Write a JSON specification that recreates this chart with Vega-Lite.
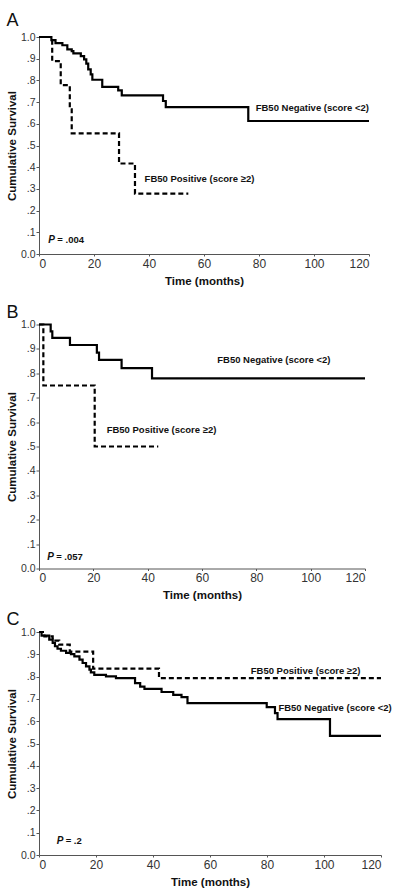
{
  "$schema": "https://vega.github.io/schema/vega-lite/v6.json",
  "padding": {"left": 6, "top": 11, "right": 0, "bottom": 0},
  "background": "white",
  "spacing": 9,
  "config": {
    "view": {"stroke": null},
    "font": "Liberation Sans",
    "axis": {"grid": false, "domainColor": "#555", "tickColor": "#555", "labelColor": "#333", "labelFont": "Liberation Sans", "titleFont": "Liberation Sans", "titleFontWeight": "bold", "titleColor": "#111", "titleFontSize": 11.5},
    "axisX": {"tickSize": 2, "labelFontSize": 12, "labelPadding": 2, "titlePadding": 6},
    "axisY": {"tickSize": 3, "labelFontSize": 10.5, "labelPadding": 1, "titlePadding": 3},
    "title": {"anchor": "start", "frame": "bounds", "fontSize": 18, "fontWeight": "normal", "font": "Liberation Sans", "color": "#111"}
  },
  "datasets": {
    "a": [
      {"group": "Negative", "t": 0, "s": 1.0},
      {"group": "Negative", "t": 4.5, "s": 0.986},
      {"group": "Negative", "t": 6, "s": 0.972},
      {"group": "Negative", "t": 8.5, "s": 0.962},
      {"group": "Negative", "t": 10.3, "s": 0.943},
      {"group": "Negative", "t": 11.9, "s": 0.935},
      {"group": "Negative", "t": 12.5, "s": 0.925},
      {"group": "Negative", "t": 15.2, "s": 0.912},
      {"group": "Negative", "t": 16.4, "s": 0.897},
      {"group": "Negative", "t": 17.2, "s": 0.877},
      {"group": "Negative", "t": 17.9, "s": 0.851},
      {"group": "Negative", "t": 18.8, "s": 0.828},
      {"group": "Negative", "t": 19.4, "s": 0.803},
      {"group": "Negative", "t": 23, "s": 0.77},
      {"group": "Negative", "t": 28.8, "s": 0.754},
      {"group": "Negative", "t": 30.1, "s": 0.731},
      {"group": "Negative", "t": 45.1, "s": 0.705},
      {"group": "Negative", "t": 46.1, "s": 0.677},
      {"group": "Negative", "t": 76.1, "s": 0.613},
      {"group": "Negative", "t": 120, "s": 0.613},
      {"group": "Positive", "t": 0, "s": 1.0},
      {"group": "Positive", "t": 4.8, "s": 0.889},
      {"group": "Positive", "t": 7.9, "s": 0.778},
      {"group": "Positive", "t": 11.2, "s": 0.667},
      {"group": "Positive", "t": 11.9, "s": 0.556},
      {"group": "Positive", "t": 29.1, "s": 0.417},
      {"group": "Positive", "t": 34.9, "s": 0.278},
      {"group": "Positive", "t": 54.3, "s": 0.278}
    ],
    "b": [
      {"group": "Negative", "t": 0, "s": 1.0},
      {"group": "Negative", "t": 4.3, "s": 0.972},
      {"group": "Negative", "t": 4.9, "s": 0.945},
      {"group": "Negative", "t": 11.4, "s": 0.916},
      {"group": "Negative", "t": 21.3, "s": 0.885},
      {"group": "Negative", "t": 22.1, "s": 0.855},
      {"group": "Negative", "t": 30.4, "s": 0.821},
      {"group": "Negative", "t": 41.6, "s": 0.779},
      {"group": "Negative", "t": 120, "s": 0.779},
      {"group": "Positive", "t": 0, "s": 1.0},
      {"group": "Positive", "t": 1.6, "s": 0.75},
      {"group": "Positive", "t": 20.5, "s": 0.5},
      {"group": "Positive", "t": 43.9, "s": 0.5}
    ],
    "c": [
      {"group": "Negative", "t": 0, "s": 1.0},
      {"group": "Negative", "t": 0.9, "s": 0.984},
      {"group": "Negative", "t": 3.6, "s": 0.966},
      {"group": "Negative", "t": 4.8, "s": 0.951},
      {"group": "Negative", "t": 5.6, "s": 0.936},
      {"group": "Negative", "t": 6.5, "s": 0.925},
      {"group": "Negative", "t": 7.7, "s": 0.916},
      {"group": "Negative", "t": 9.5, "s": 0.906},
      {"group": "Negative", "t": 11.2, "s": 0.901},
      {"group": "Negative", "t": 12.4, "s": 0.891},
      {"group": "Negative", "t": 14.2, "s": 0.876},
      {"group": "Negative", "t": 15.3, "s": 0.861},
      {"group": "Negative", "t": 16.5, "s": 0.846},
      {"group": "Negative", "t": 17.7, "s": 0.831},
      {"group": "Negative", "t": 18.2, "s": 0.819},
      {"group": "Negative", "t": 19.4, "s": 0.808},
      {"group": "Negative", "t": 23.5, "s": 0.801},
      {"group": "Negative", "t": 27, "s": 0.793},
      {"group": "Negative", "t": 33.7, "s": 0.771},
      {"group": "Negative", "t": 35.5, "s": 0.755},
      {"group": "Negative", "t": 37, "s": 0.745},
      {"group": "Negative", "t": 43, "s": 0.731},
      {"group": "Negative", "t": 47.1, "s": 0.718},
      {"group": "Negative", "t": 50, "s": 0.708},
      {"group": "Negative", "t": 52.1, "s": 0.681},
      {"group": "Negative", "t": 79.9, "s": 0.663},
      {"group": "Negative", "t": 82.8, "s": 0.636},
      {"group": "Negative", "t": 83.7, "s": 0.609},
      {"group": "Negative", "t": 102.1, "s": 0.534},
      {"group": "Negative", "t": 120, "s": 0.534},
      {"group": "Positive", "t": 0, "s": 1.0},
      {"group": "Positive", "t": 1.9, "s": 0.98},
      {"group": "Positive", "t": 4.8, "s": 0.961},
      {"group": "Positive", "t": 7.1, "s": 0.943},
      {"group": "Positive", "t": 10.8, "s": 0.912},
      {"group": "Positive", "t": 19, "s": 0.836},
      {"group": "Positive", "t": 42.1, "s": 0.793},
      {"group": "Positive", "t": 120, "s": 0.793}
    ],
    "labels": [
      {"panel": "A", "t": 78.8, "s": 0.671, "text": "FB50 Negative (score <2)"},
      {"panel": "A", "t": 38.4, "s": 0.344, "text": "FB50 Positive (score ≥2)"},
      {"panel": "B", "t": 65.6, "s": 0.854, "text": "FB50 Negative (score <2)"},
      {"panel": "B", "t": 24.9, "s": 0.566, "text": "FB50 Positive (score ≥2)"},
      {"panel": "C", "t": 74.3, "s": 0.825, "text": "FB50 Positive (score ≥2)"},
      {"panel": "C", "t": 84, "s": 0.659, "text": "FB50 Negative (score <2)"}
    ],
    "pvals": [
      {"panel": "A", "t": 3.4, "s": 0.063, "p": "P", "val": "= .004"},
      {"panel": "B", "t": 3.0, "s": 0.049, "p": "P", "val": "= .057"},
      {"panel": "C", "t": 6.2, "s": 0.064, "p": "P", "val": "= .2"}
    ]
  },
  "vconcat": [
    {
      "spacing": 16.5,
      "vconcat": [
        {
          "title": {"text": "A", "offset": 2.5},
          "width": 330, "height": 217,
          "encoding": {
            "x": {"field": "t", "type": "quantitative", "scale": {"domain": [0, 120], "nice": false}, "axis": {"values": [0, 20, 40, 60, 80, 100, 120], "title": "Time (months)"}},
            "y": {"field": "s", "type": "quantitative", "scale": {"domain": [0, 1], "nice": false}, "axis": {"values": [0, 0.1, 0.2, 0.3, 0.4, 0.5, 0.6, 0.7, 0.8, 0.9, 1], "title": "Cumulative Survival", "labelExpr": "datum.value == 0 ? '0.0' : datum.value == 1 ? '1.0' : replace(format(datum.value, '.1f'), '0.', '.')"}}
          },
          "layer": [
            {"data": {"name": "a"}, "mark": {"type": "line", "interpolate": "step-after", "color": "black", "strokeWidth": 2.2},
             "encoding": {"strokeDash": {"field": "group", "type": "nominal", "scale": {"domain": ["Negative", "Positive"], "range": [[1, 0], [5, 3]]}, "legend": null}}},
            {"data": {"name": "labels"}, "transform": [{"filter": "datum.panel == 'A'"}], "mark": {"type": "text", "align": "left", "baseline": "middle", "fontWeight": "bold", "fontSize": 9.5, "color": "#111"}, "encoding": {"text": {"field": "text"}}},
            {"data": {"name": "pvals"}, "transform": [{"filter": "datum.panel == 'A'"}], "mark": {"type": "text", "align": "left", "baseline": "middle", "fontWeight": "bold", "fontStyle": "italic", "fontSize": 10, "color": "#111"}, "encoding": {"text": {"field": "p"}}},
            {"data": {"name": "pvals"}, "transform": [{"filter": "datum.panel == 'A'"}], "mark": {"type": "text", "align": "left", "baseline": "middle", "fontWeight": "bold", "fontSize": 9.5, "dx": 9, "color": "#111"}, "encoding": {"text": {"field": "val"}}}
          ]
        },
        {
          "title": {"text": "B", "offset": -2.7},
          "width": 326, "height": 244,
          "encoding": {
            "x": {"field": "t", "type": "quantitative", "scale": {"domain": [0, 120], "nice": false}, "axis": {"values": [0, 20, 40, 60, 80, 100, 120], "title": "Time (months)"}},
            "y": {"field": "s", "type": "quantitative", "scale": {"domain": [0, 1], "nice": false}, "axis": {"values": [0, 0.1, 0.2, 0.3, 0.4, 0.5, 0.6, 0.7, 0.8, 0.9, 1], "title": "Cumulative Survival", "labelExpr": "datum.value == 0 ? '0.0' : datum.value == 1 ? '1.0' : replace(format(datum.value, '.1f'), '0.', '.')"}}
          },
          "layer": [
            {"data": {"name": "b"}, "mark": {"type": "line", "interpolate": "step-after", "color": "black", "strokeWidth": 2.2},
             "encoding": {"strokeDash": {"field": "group", "type": "nominal", "scale": {"domain": ["Negative", "Positive"], "range": [[1, 0], [5, 3]]}, "legend": null}}},
            {"data": {"name": "labels"}, "transform": [{"filter": "datum.panel == 'B'"}], "mark": {"type": "text", "align": "left", "baseline": "middle", "fontWeight": "bold", "fontSize": 9.5, "color": "#111"}, "encoding": {"text": {"field": "text"}}},
            {"data": {"name": "pvals"}, "transform": [{"filter": "datum.panel == 'B'"}], "mark": {"type": "text", "align": "left", "baseline": "middle", "fontWeight": "bold", "fontStyle": "italic", "fontSize": 10, "color": "#111"}, "encoding": {"text": {"field": "p"}}},
            {"data": {"name": "pvals"}, "transform": [{"filter": "datum.panel == 'B'"}], "mark": {"type": "text", "align": "left", "baseline": "middle", "fontWeight": "bold", "fontSize": 9.5, "dx": 9, "color": "#111"}, "encoding": {"text": {"field": "val"}}}
          ]
        }
      ]
    },
    {
      "title": {"text": "C", "offset": -1.7},
      "width": 342, "height": 223,
      "encoding": {
        "x": {"field": "t", "type": "quantitative", "scale": {"domain": [0, 120], "nice": false}, "axis": {"values": [0, 20, 40, 60, 80, 100, 120], "title": "Time (months)"}},
        "y": {"field": "s", "type": "quantitative", "scale": {"domain": [0, 1], "nice": false}, "axis": {"values": [0, 0.1, 0.2, 0.3, 0.4, 0.5, 0.6, 0.7, 0.8, 0.9, 1], "title": "Cumulative Survival", "labelExpr": "datum.value == 0 ? '0.0' : datum.value == 1 ? '1.0' : replace(format(datum.value, '.1f'), '0.', '.')"}}
      },
      "layer": [
        {"data": {"name": "c"}, "mark": {"type": "line", "interpolate": "step-after", "color": "black", "strokeWidth": 2.2},
         "encoding": {"strokeDash": {"field": "group", "type": "nominal", "scale": {"domain": ["Negative", "Positive"], "range": [[1, 0], [5, 3]]}, "legend": null}}},
        {"data": {"name": "labels"}, "transform": [{"filter": "datum.panel == 'C'"}], "mark": {"type": "text", "align": "left", "baseline": "middle", "fontWeight": "bold", "fontSize": 9.5, "color": "#111"}, "encoding": {"text": {"field": "text"}}},
        {"data": {"name": "pvals"}, "transform": [{"filter": "datum.panel == 'C'"}], "mark": {"type": "text", "align": "left", "baseline": "middle", "fontWeight": "bold", "fontStyle": "italic", "fontSize": 10, "color": "#111"}, "encoding": {"text": {"field": "p"}}},
        {"data": {"name": "pvals"}, "transform": [{"filter": "datum.panel == 'C'"}], "mark": {"type": "text", "align": "left", "baseline": "middle", "fontWeight": "bold", "fontSize": 9.5, "dx": 9, "color": "#111"}, "encoding": {"text": {"field": "val"}}}
      ]
    }
  ]
}
